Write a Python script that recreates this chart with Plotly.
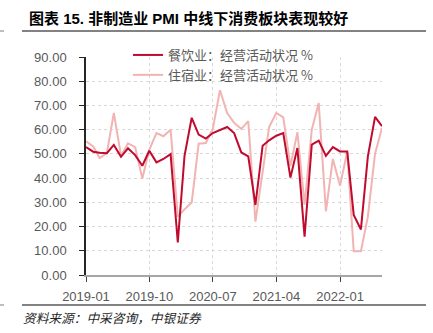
import plotly.graph_objects as go
import pandas as pd

months = pd.date_range("2019-01-01", periods=43, freq="MS")

catering = [52.8, 50.9, 50.5, 50.3, 53.7, 48.8, 52.3, 49.5, 45.1, 51.3,
            46.5, 47.9, 49.9, 13.4, 49.2, 64.9, 58.0, 56.3, 58.6, 59.8,
            61.1, 58.6, 50.6, 49.0, 28.9, 53.4, 55.6, 57.5, 58.6, 40.2,
            52.4, 15.8, 53.8, 55.5, 49.2, 52.8, 51.0, 51.0, 24.8, 18.8,
            49.0, 65.3, 61.4]

lodging = [55.2, 53.1, 48.3, 50.3, 66.9, 49.2, 54.4, 52.8, 39.8, 51.7,
           58.6, 57.3, 60.0, 24.1, 27.1, 29.9, 54.2, 54.5, 60.3, 76.3,
           66.9, 62.8, 60.3, 63.5, 22.0, 41.6, 61.1, 66.9, 65.1, 45.0,
           59.0, 29.0, 60.0, 71.0, 26.3, 47.9, 36.8, 51.0, 9.8, 9.8,
           24.1, 50.1, 60.7]

series_names = ["餐饮业：经营活动状况 %", "住宿业：经营活动状况 %"]
tick_dates = ["2019-01-01", "2019-10-01", "2020-07-01", "2021-04-01", "2022-01-01"]
tick_labels = ["2019-01", "2019-10", "2020-07", "2021-04", "2022-01"]
y_ticks = [0, 10, 20, 30, 40, 50, 60, 70, 80, 90]

title_text = "图表 15. 非制造业 PMI 中线下消费板块表现较好"
source_text = "资料来源：中采咨询，中银证券"

W, H = 433, 333
L, R, T, B = 86, 51, 57, 58

fig = go.Figure()
fig.add_trace(go.Scatter(x=months, y=lodging, mode="lines", name=series_names[1],
                         line=dict(color="#F2B3B3", width=2)))
fig.add_trace(go.Scatter(x=months, y=catering, mode="lines", name=series_names[0],
                         line=dict(color="#C00A2E", width=2)))

fig.update_layout(
    width=W, height=H,
    margin=dict(l=L, r=R, t=T, b=B, pad=0),
    paper_bgcolor="white", plot_bgcolor="white",
    font=dict(family="Noto Sans CJK SC, Liberation Sans", color="#595959", size=13),
    showlegend=True,
    legend=dict(x=(128 - L) / (W - L - R), y=(H - B - 40) / (H - T - B),
                xanchor="left", yanchor="top", traceorder="reversed",
                bgcolor="rgba(0,0,0,0)", font=dict(size=13, color="#595959"),
                tracegroupgap=0),
)

fig.update_xaxes(
    type="date", range=["2019-01-01", "2022-07-01"],
    tickvals=tick_dates, ticktext=tick_labels,
    showline=True, linecolor="#A6A6A6", linewidth=1.5,
    ticks="outside", ticklen=5, tickcolor="#404040", tickwidth=1,
    showgrid=True, gridcolor="#D9D9D9", griddash="dot", gridwidth=1,
    zeroline=False,
    tickfont=dict(family="Liberation Sans, Noto Sans", size=13, color="#595959"),
    ticklabelstandoff=4,
)
fig.update_yaxes(
    range=[0, 90], tickvals=y_ticks, tickformat=".2f",
    showline=True, linecolor="#262626", linewidth=1.5,
    ticks="outside", ticklen=5, tickcolor="#262626", tickwidth=1,
    showgrid=True, gridcolor="#D9D9D9", griddash="dot", gridwidth=1,
    zeroline=False,
    tickfont=dict(family="Liberation Sans, Noto Sans", size=13, color="#595959"),
    ticklabelstandoff=10,
)

fig.add_annotation(text="<b>" + title_text + "</b>", xref="paper", yref="paper",
                   x=(27 - L) / (W - L - R), y=(H - B - 18) / (H - T - B),
                   xanchor="left", yanchor="middle", showarrow=False,
                   font=dict(family="Liberation Sans, Noto Sans CJK SC", size=15, color="#000000"))
fig.add_annotation(text="<i>" + source_text + "</i>", xref="paper", yref="paper",
                   x=(21 - L) / (W - L - R), y=(H - B - 317) / (H - T - B),
                   xanchor="left", yanchor="middle", showarrow=False,
                   font=dict(family="Noto Sans CJK SC", size=12.7, color="#262626"))


def px_x(p):
    return (p - L) / (W - L - R)


def px_y(p):
    return (H - B - p) / (H - T - B)


for yy in (31, 305):
    fig.add_shape(type="line", xref="paper", yref="paper",
                  x0=px_x(22), x1=px_x(426), y0=px_y(yy), y1=px_y(yy),
                  line=dict(color="#595959", width=1.5))
    fig.add_shape(type="line", xref="paper", yref="paper",
                  x0=px_x(0), x1=px_x(4), y0=px_y(yy), y1=px_y(yy),
                  line=dict(color="#7F7F7F", width=1))

fig.write_html("out.html", config={"displayModeBar": False})
